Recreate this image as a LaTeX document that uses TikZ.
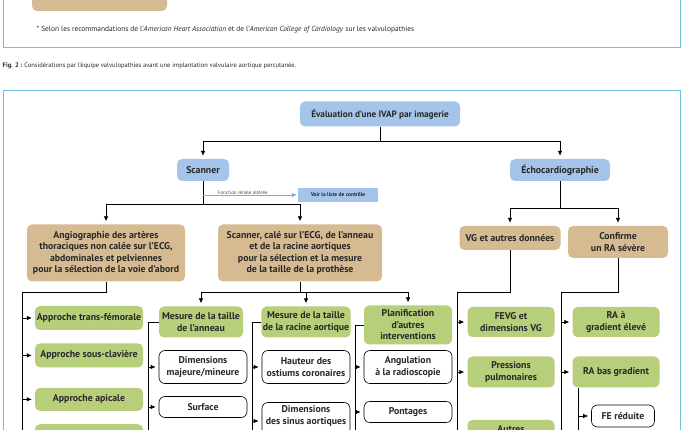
\documentclass[tikz,border=0pt]{standalone}
\usepackage{fontspec}
\setmainfont{PT Sans}
\usetikzlibrary{arrows.meta,positioning,calc}

\definecolor{imgblue}{RGB}{164,197,233}
\definecolor{imgtan}{RGB}{214,186,146}
\definecolor{imggreen}{RGB}{183,206,122}
\definecolor{panelblue}{RGB}{112,190,222}
\definecolor{linkblue}{RGB}{125,172,222}
\definecolor{txtdark}{RGB}{40,40,40}

\begin{document}
\begin{tikzpicture}[x=1pt,y=-1pt,
    every node/.style={font=\bfseries\fontsize{9.8}{11.5}\selectfont,text=txtdark,align=center,inner sep=1.5pt},
    bluebox/.style={fill=imgblue,rounded corners=5pt},
    tanbox/.style={fill=imgtan,rounded corners=5pt},
    greenbox/.style={fill=imggreen,rounded corners=5pt,minimum width=87pt},
    whitebox/.style={draw=black,line width=0.6pt,fill=white,rounded corners=6pt,minimum width=88pt},
    panel/.style={draw=panelblue,line width=0.8pt},
    link/.style={draw=black,line width=0.7pt},
    arr/.style={link,-{Latex[length=5pt,width=4.5pt]},shorten >=3pt},
    bluearr/.style={draw=linkblue,line width=0.7pt,-{Latex[length=5pt,width=4.5pt]},shorten >=1pt}]

        \useasboundingbox (0,0) rectangle (686,430);

        \draw[panel] (3,-20) rectangle (680,47);
        \node[tanbox,minimum width=135pt,minimum height=31pt] (prev) at (99.5,-4.5) {};
        \node[anchor=west,font=\fontsize{7.4}{9}\selectfont] (note) at (35,30)
            {* Selon les recommandations de l'\textit{American Heart Association} et de l'\textit{American College of Cardiology} sur les valvulopathies};
        \node[anchor=west,font=\fontsize{6.5}{8}\selectfont] (caption) at (1,66)
            {\textbf{Fig. 2 :} Considérations par l'équipe valvulopathies avant une implantation valvulaire aortique percutanée.};
        \draw[panel] (3,90) rectangle (680,470);

        \node[bluebox,minimum width=160pt,minimum height=25pt,font=\bfseries\fontsize{9.2}{11}\selectfont] (eval) at (380,114) {Évaluation d'une IVAP par imagerie};
        \node[bluebox,minimum width=52pt,minimum height=22pt] (scan) at (203,170) {Scanner};
        \node[bluebox,minimum width=100pt,minimum height=22pt] (echo) at (560,170) {Échocardiographie};
        \node[fill=imgblue,minimum width=80pt,minimum height=14pt,font=\bfseries\fontsize{5.5}{7}\selectfont] (liste) at (338,195) {Voir la liste de contrôle};

        \node[tanbox,minimum width=158pt,minimum height=57pt] (angio) at (106,253)
            {Angiographie des artères\\thoraciques non calée sur l'ECG,\\abdominales et pelviennes\\pour la sélection de la voie d'abord};
        \node[tanbox,minimum width=164pt,minimum height=57pt] (scanecg) at (300,253)
            {Scanner, calé sur l'ECG, de l'anneau\\et de la racine aortiques\\pour la sélection et la mesure\\de la taille de la prothèse};
        \node[tanbox,minimum width=101pt,minimum height=24pt] (vg) at (510,238) {VG et autres données};
        \node[tanbox,minimum width=100pt,minimum height=32pt] (confirme) at (618,242) {Confirme\\un RA sévère};

        \node[greenbox,minimum width=108pt,minimum height=24pt] (trans) at (89,318) {Approche trans-fémorale};
        \node[greenbox,minimum width=108pt,minimum height=24pt,below=13pt of trans] (sousclav) {Approche sous-clavière};
        \node[greenbox,minimum width=108pt,minimum height=23pt,below=20pt of sousclav] (apical) {Approche apicale};
        \node[greenbox,minimum width=108pt,minimum height=22pt,below=13pt of apical] (autresvoies) {Autres approches};

        \node[greenbox,minimum width=84pt,minimum height=31pt] (anneau) at (201,322) {Mesure de la taille\\de l'anneau};
        \node[greenbox,minimum width=88pt,minimum height=31pt] (racine) at (306,322) {Mesure de la taille\\de la racine aortique};
        \node[greenbox,minimum width=88pt,minimum height=39pt] (planif) at (408,325) {Planification\\d'autres\\interventions};
        \node[greenbox,minimum height=30pt] (fevg) at (511,322) {FEVG et\\dimensions VG};
        \node[greenbox,minimum height=31pt] (pressions) at (511,372) {Pressions\\pulmonaires};
        \node[greenbox,minimum height=30pt] (autresecho) at (511,435) {Autres\\\mbox{}};
        \node[greenbox,minimum height=30pt] (ragrad) at (616,322) {RA à\\gradient élevé};
        \node[greenbox,minimum height=31pt] (rabas) at (616,372) {RA bas gradient};

        \node[whitebox,minimum height=33pt] (dimmaj) at (203,367) {Dimensions\\majeure/mineure};
        \node[whitebox,minimum height=21pt] (surface) at (203,407) {Surface};
        \node[whitebox,minimum height=33pt] (hauteur) at (306,367) {Hauteur des\\ostiums coronaires};
        \node[whitebox,minimum height=37pt] (sinus) at (306,421) {Dimensions\\des sinus aortiques\\\mbox{}};
        \node[whitebox,minimum height=33pt] (angul) at (408,367) {Angulation\\à la radioscopie};
        \node[whitebox,minimum height=21pt] (pontages) at (408,412) {Pontages};
        \node[whitebox,minimum width=63pt,minimum height=22pt] (fereduite) at (623,416) {FE réduite};

        \coordinate (split1) at (380,141);
        \coordinate (split2) at (203,204);
        \coordinate (renal) at (203,195);
        \coordinate (split3) at (560,208);
        \coordinate (rail1) at (22,292);
        \coordinate (rail1end) at (22,450);
        \coordinate (split4) at (300,292);
        \coordinate (rail2) at (148,322);
        \coordinate (rail2end) at (148,450);
        \coordinate (rail3) at (252,322);
        \coordinate (rail3end) at (252,450);
        \coordinate (rail4) at (355,325);
        \coordinate (rail4end) at (355,450);
        \coordinate (rail5) at (457,292);
        \coordinate (rail5end) at (457,450);
        \coordinate (rail6) at (561,292);
        \coordinate (rail6end) at (561,450);
        \coordinate (rail7) at (578,388);
        \coordinate (rail7end) at (578,450);

        \draw[link] (eval) -- (split1);
        \draw[arr] (split1) -| (scan);
        \draw[arr] (split1) -| (echo);
        \draw[link] (scan) -- (split2);
        \draw[bluearr] (renal) -- (liste) node[pos=0.42,above=-1pt,font=\fontsize{5}{6}\selectfont,text=black!70] {Fonction rénale altérée};
        \draw[arr] (split2) -| (angio);
        \draw[arr] (split2) -| (scanecg);
        \draw[link] (echo) -- (split3);
        \draw[arr] (split3) -| (vg);
        \draw[arr] (split3) -| (confirme);

        \draw[link] (angio) |- (rail1) -- (rail1end);
        \draw[arr] (trans.west -| rail1) -- (trans);
        \draw[arr] (sousclav.west -| rail1) -- (sousclav);
        \draw[arr] (apical.west -| rail1) -- (apical);
        \draw[arr] (autresvoies.west -| rail1) -- (autresvoies);

        \draw[link] (scanecg) -- (split4);
        \draw[arr] (split4) -| (anneau);
        \draw[arr] (split4) -| (racine);
        \draw[arr] (split4) -| (planif);

        \draw[link] (anneau) -- (rail2) -- (rail2end);
        \draw[arr] (dimmaj.west -| rail2) -- (dimmaj);
        \draw[arr] (surface.west -| rail2) -- (surface);
        \draw[link] (racine) -- (rail3) -- (rail3end);
        \draw[arr] (hauteur.west -| rail3) -- (hauteur);
        \draw[arr] (sinus.west -| rail3) -- (sinus);
        \draw[link] (planif) -- (rail4) -- (rail4end);
        \draw[arr] (angul.west -| rail4) -- (angul);
        \draw[arr] (pontages.west -| rail4) -- (pontages);

        \draw[link] (vg) |- (rail5) -- (rail5end);
        \draw[arr] (fevg.west -| rail5) -- (fevg);
        \draw[arr] (pressions.west -| rail5) -- (pressions);
        \draw[arr] (autresecho.west -| rail5) -- (autresecho);
        \draw[link] (confirme) |- (rail6) -- (rail6end);
        \draw[arr] (ragrad.west -| rail6) -- (ragrad);
        \draw[arr] (rabas.west -| rail6) -- (rabas);
        \draw[link] (rail7) -- (rail7end);
        \draw[arr] (fereduite.west -| rail7) -- (fereduite);

\end{tikzpicture}
\end{document}
